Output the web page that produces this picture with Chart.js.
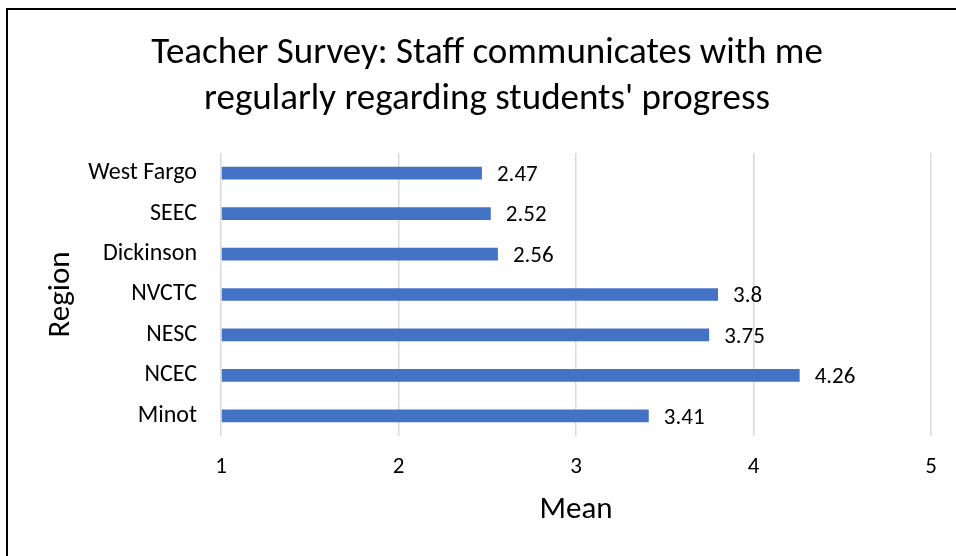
<!DOCTYPE html>
<html>
<head>
<meta charset="utf-8">
<script src="https://cdn.jsdelivr.net/npm/chart.js@4/dist/chart.umd.min.js"></script>
<style>
  html, body { margin: 0; padding: 0; background: #fff; }
  #wrap { width: 956px; height: 556px; position: relative; }
</style>
</head>
<body>
<div id="wrap"><canvas id="c" width="956" height="556"></canvas></div>
<script>
const categories = ["West Fargo", "SEEC", "Dickinson", "NVCTC", "NESC", "NCEC", "Minot"];
const meanValues = [2.47, 2.52, 2.56, 3.8, 3.75, 4.26, 3.41];
const xTickValues = [1, 2, 3, 4, 5];
const titleLines = ["Teacher Survey: Staff communicates with me", "regularly regarding students' progress"];
const xTitle = "Mean";
const yTitle = "Region";

const FONT = "Carlito, Calibri, Lato, sans-serif";

const frame = {
  id: 'frame',
  afterDraw(chart) {
    const ctx = chart.ctx;
    ctx.save();
    ctx.fillStyle = '#000';
    ctx.fillRect(6, 8, 2, 556 - 8);
    ctx.fillRect(6, 8, 956 - 6, 2);
    ctx.restore();
  }
};

const valueLabels = {
  id: 'valueLabels',
  afterDatasetsDraw(chart) {
    const ctx = chart.ctx;
    const meta = chart.getDatasetMeta(0);
    ctx.save();
    ctx.font = "23px " + FONT;
    ctx.fillStyle = '#000';
    ctx.textAlign = 'left';
    ctx.textBaseline = 'middle';
    meta.data.forEach((bar, i) => {
      ctx.fillText(String(chart.data.datasets[0].data[i]), bar.x + 15, bar.y + 2);
    });
    ctx.restore();
  }
};

new Chart(document.getElementById('c'), {
  type: 'bar',
  data: {
    labels: categories,
    datasets: [{
      data: meanValues,
      base: 1,
      backgroundColor: '#4472C4',
      borderWidth: 0,
      barPercentage: 0.314,
      categoryPercentage: 1.0
    }]
  },
  options: {
    indexAxis: 'y',
    responsive: false,
    animation: false,
    events: [],
    layout: { padding: { left: 43, right: 25, top: 10, bottom: 0 } },
    plugins: {
      legend: { display: false },
      tooltip: { enabled: false },
      title: {
        display: true,
        text: titleLines,
        color: '#000',
        font: { family: FONT, size: 37, weight: 'normal', lineHeight: 1.243 },
        padding: { top: 21, bottom: 30 }
      }
    },
    scales: {
      x: {
        type: 'linear',
        min: 1,
        max: 5,
        afterBuildTicks(scale) { scale.ticks = xTickValues.map(v => ({ value: v })); },
        afterFit(scale) { scale.height = 120; },
        grid: { display: true, color: '#D9D9D9', lineWidth: 1.5, drawTicks: false },
        border: { display: false },
        ticks: { color: '#000', font: { family: FONT, size: 23, lineHeight: 1.2 }, padding: 17 },
        title: {
          display: true, text: xTitle, color: '#000',
          font: { family: FONT, size: 31, lineHeight: 1.2 },
          padding: { top: 0, bottom: 27 }
        }
      },
      y: {
        afterFit(scale) { scale.width = 178; },
        grid: { display: false, drawTicks: false },
        border: { display: false },
        ticks: { color: '#000', font: { family: FONT, size: 24 }, padding: 24 },
        title: {
          display: true, text: yTitle, color: '#000',
          font: { family: FONT, size: 31, lineHeight: 1.2 },
          padding: { top: 0, bottom: 0 }
        }
      }
    }
  },
  plugins: [frame, valueLabels]
});
</script>
</body>
</html>
